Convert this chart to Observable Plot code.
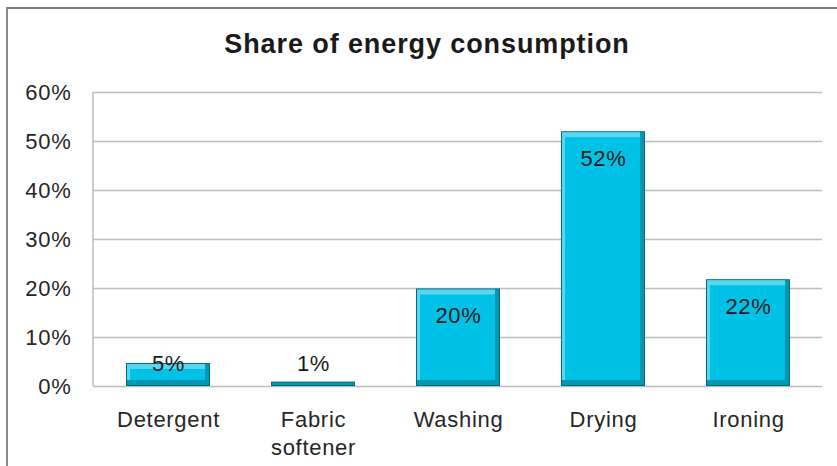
<!DOCTYPE html>
<html>
<head>
<meta charset="utf-8">
<script src="https://cdn.jsdelivr.net/npm/d3@7"></script>
<script src="https://cdn.jsdelivr.net/npm/@observablehq/plot@0.6"></script>
<style>
  html, body { margin: 0; padding: 0; background: #fff; overflow: hidden; width: 837px; height: 466px; }
  #frame { position: absolute; left: 6px; top: 7px; width: 900px; height: 520px;
           border-top: 2px solid #7a7a7a; border-left: 2px solid #8a8a8a; }
  #title { position: absolute; left: 7px; width: 840px; top: 31px; text-align: center;
           font: bold 27px "Liberation Sans", Arial, sans-serif; line-height: 27px;
           letter-spacing: 0.9px; color: #1a1a1a; }
  #chart { position: absolute; left: 0; top: 60px; }
</style>
</head>
<body>
<div id="frame"></div>
<div id="title">Share of energy consumption</div>
<div id="chart"></div>
<script>
const categories = ["Detergent", "Fabric softener", "Washing", "Drying", "Ironing"];
const xLabels = ["Detergent", "Fabric\nsoftener", "Washing", "Drying", "Ironing"];
const values = [4.7, 0.9, 19.9, 52.0, 21.8];
const yTicks = [0, 10, 20, 30, 40, 50, 60];

const data = categories.map((c, i) => ({cat: c, value: values[i]}));

const leftLine = (index, scales, values, dim) => {
  const g = document.createElementNS("http://www.w3.org/2000/svg", "line");
  g.setAttribute("x1", dim.marginLeft);
  g.setAttribute("x2", dim.marginLeft);
  g.setAttribute("y1", dim.marginTop);
  g.setAttribute("y2", dim.height - dim.marginBottom);
  g.setAttribute("stroke", "#bdbdbd");
  g.setAttribute("stroke-width", 1.5);
  return g;
};

const bar = (fill, insets) => Plot.barY(data, {x: "cat", y: "value", fill, ...insets});

const chart = Plot.plot({
  width: 837,
  height: 406,
  marginLeft: 93,
  marginRight: 15,
  marginTop: 32,
  marginBottom: 80,
  style: {fontFamily: "'Liberation Sans', Arial, sans-serif", fontSize: "22px", letterSpacing: "0.7px", color: "#262626", background: "transparent"},
  x: {domain: categories, paddingInner: 0.424, paddingOuter: 0.212, label: null},
  y: {domain: [0, 60], label: null},
  marks: [
    Plot.ruleY(yTicks, {stroke: "#bdbdbd", strokeWidth: 1.5}),
    leftLine,
    bar("#006b80", {}),
    bar("#0897b3", {insetTop: 1, insetLeft: 1, insetRight: 1, insetBottom: 1}),
    bar("#5ad7f0", {insetTop: 1, insetLeft: 1, insetRight: 5, insetBottom: 6}),
    bar("#00c2e6", {insetTop: 6, insetLeft: 4, insetRight: 5, insetBottom: 6}),
    Plot.text(data, {
      x: "cat",
      y: d => Math.max(d.value - 5.5, 4.5),
      text: d => Math.round(d.value) + "%",
      fontSize: 22,
      fill: "#1a1a1a"
    }),
    Plot.axisY({ticks: yTicks, tickFormat: d => d + "%", tickSize: 0, tickPadding: 22, fontSize: 22}),
    Plot.axisX({tickSize: 0, tickPadding: 21, fontSize: 22, lineHeight: 1.27,
                tickFormat: d => xLabels[categories.indexOf(d)]})
  ]
});
document.getElementById("chart").appendChild(chart);
</script>
</body>
</html>
